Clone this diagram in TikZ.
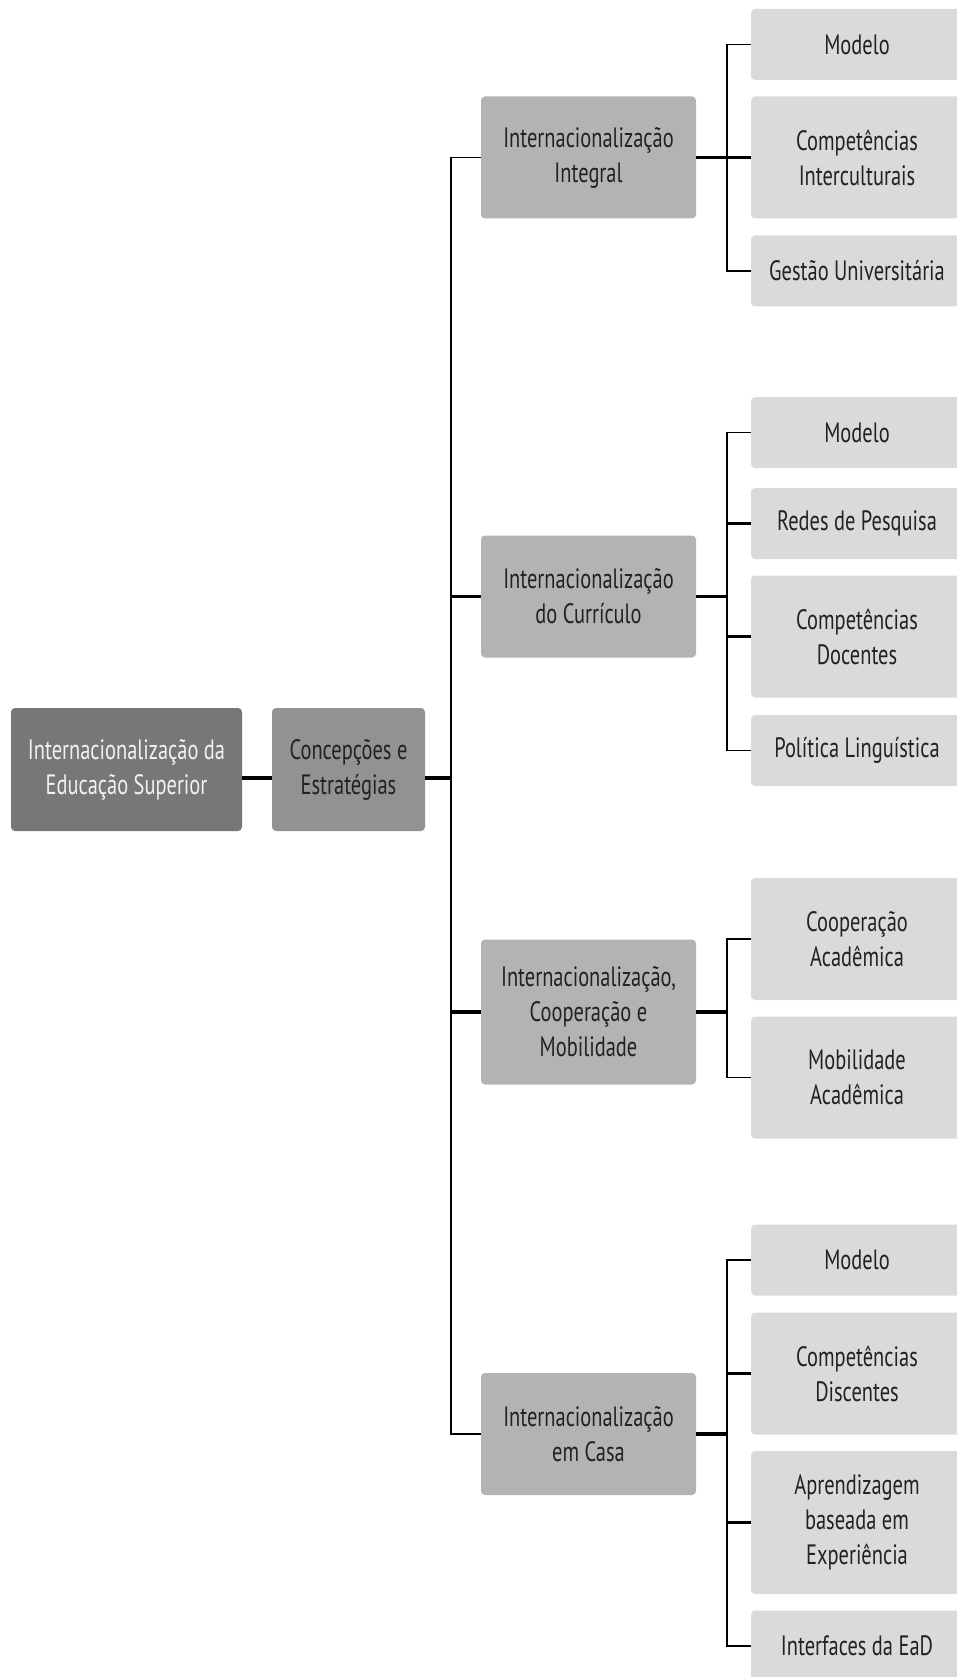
\documentclass[tikz,border=0pt]{standalone}
\usepackage{fontspec}
\setmainfont[FakeStretch=0.73]{PT Sans}
\usetikzlibrary{positioning}

\definecolor{rootgray}{HTML}{777777}
\definecolor{midgray}{HTML}{929292}
\definecolor{levelgray}{HTML}{B3B3B3}
\definecolor{leafgray}{HTML}{DADADA}
\definecolor{textgray}{HTML}{222222}

\begin{document}
\begin{tikzpicture}[x=1pt,y=-1pt,
  thick line/.style={line width=3.5pt},
  thin line/.style={line width=1.3pt},
  box/.style={rounded corners=4pt,align=center,inner sep=0pt,text=textgray,
    font=\fontsize{28}{35}\selectfont},
  root node/.style={box,fill=rootgray,text=white!95!black,minimum width=231pt,minimum height=123pt},
  mid node/.style={box,fill=midgray,minimum width=153pt,minimum height=123pt},
  level node/.style={box,fill=levelgray,minimum width=215pt,minimum height=122pt},
  leaf node/.style={box,fill=leafgray,minimum width=212pt,minimum height=71pt},
  two node/.style={leaf node,minimum height=122pt},
  three node/.style={leaf node,minimum height=143pt}]

  \clip (0,0) rectangle (957,1677);

  \node[root node] (root) at (126.5,769.5) {Internacionalização da\\Educação Superior};
  \node[mid node] (ce) at (348.5,769.5) {Concepções e\\Estratégias};

  \node[level node] (ii) at (588.5,157.5) {Internacionalização\\Integral};
  \node[level node] (ic) at (588.5,596.5) {Internacionalização\\do Currículo};
  \node[level node,minimum height=145pt] (im) at (588.5,1012) {Internacionalização,\\Cooperação e\\Mobilidade};
  \node[level node] (ca) at (588.5,1434) {Internacionalização\\em Casa};

  % Integral
  \node[leaf node] (ii1) at (857,44.5) {Modelo};
  \node[two node] (ii2) at (857,157.5) {Competências\\Interculturais};
  \node[leaf node] (ii3) at (857,271) {Gestão Universitária};

  % Curriculo
  \node[leaf node] (ic1) at (857,432.5) {Modelo};
  \node[leaf node] (ic2) at (857,523.5) {Redes de Pesquisa};
  \node[two node] (ic3) at (857,636.5) {Competências\\Docentes};
  \node[leaf node] (ic4) at (857,750.5) {Política Linguística};

  % Cooperacao e Mobilidade
  \node[two node] (im1) at (857,939) {Cooperação\\Acadêmica};
  \node[two node] (im2) at (857,1077.5) {Mobilidade\\Acadêmica};

  % Casa
  \node[leaf node] (ca1) at (857,1260) {Modelo};
  \node[two node] (ca2) at (857,1373.5) {Competências\\Discentes};
  \node[three node] (ca3) at (857,1522.5) {Aprendizagem\\baseada em\\Experiência};
  \node[leaf node] (ca4) at (857,1646) {Interfaces da EaD};

  \coordinate (tr) at (451,778);
  \coordinate (bii) at (727,157.5);
  \coordinate (bic) at (727,596.5);
  \coordinate (bim) at (727,1012);
  \coordinate (bca) at (727,1434);

  % trunk
  \draw[thick line] (root.east |- tr) -- (ce.west |- tr);
  \draw[thick line] (ce.east |- tr) -- (tr);
  \draw[thin line] (tr) |- (ii.west);
  \draw[thin line] (tr) |- (ca.west);
  \draw[thick line] (ic.west -| tr) -- (ic.west);
  \draw[thick line] (im.west -| tr) -- (im.west);

  % brackets
  \draw[thick line] (ii) -- (ii2);
  \draw[thin line] (bii) |- (ii1.west);
  \draw[thin line] (bii) |- (ii3.west);

  \draw[thick line] (ic) -- (bic);
  \draw[thin line] (bic) |- (ic1.west);
  \draw[thin line] (bic) |- (ic4.west);
  \draw[thick line] (ic2.west -| bic) -- (ic2.west);
  \draw[thick line] (ic3.west -| bic) -- (ic3.west);

  \draw[thick line] (im) -- (bim);
  \draw[thin line] (bim) |- (im1.west);
  \draw[thin line] (bim) |- (im2.west);

  \draw[thick line] (ca) -- (bca);
  \draw[thin line] (bca) |- (ca1.west);
  \draw[thin line] (bca) |- (ca4.west);
  \draw[thick line] (ca2.west -| bca) -- (ca2.west);
  \draw[thick line] (ca3.west -| bca) -- (ca3.west);

\end{tikzpicture}
\end{document}
